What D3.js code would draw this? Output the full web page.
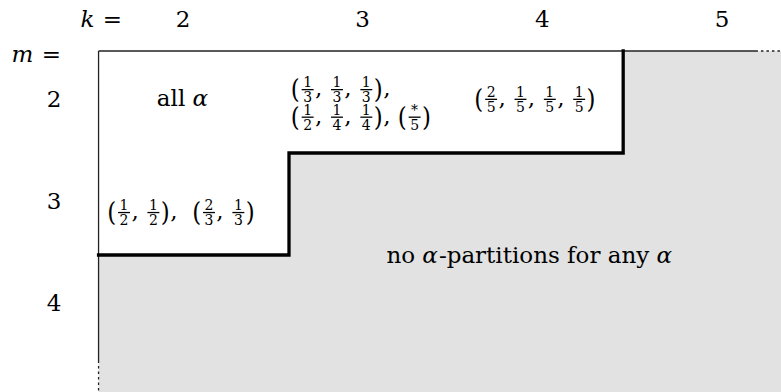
<!DOCTYPE html>
<html><head><meta charset="utf-8">
<script src="https://cdn.jsdelivr.net/npm/d3@7"></script>
<style>
body{margin:0;background:#fff}
svg{display:block}
</style>
</head><body>
<svg id="c" width="781" height="392"></svg>
<script>
// ---- data ----
const kValues = [2, 3, 4, 5];
const mValues = [2, 3, 4];
// staircase boundary (k, m) vertices
const stairK = [1.53, 2.59, 2.59, 4.45, 4.45];
const stairM = [3.5, 3.5, 2.5, 2.5, 1.5];
// solid part of the frame (k and m extents); dotted beyond
const frameK = [1.53, 5.2];
const frameM = [1.5, 4.56];
// cell annotations
const cellTexts = [
  "all $α$",
  "(\\f{1}{3}, \\f{1}{3}, \\f{1}{3}),",
  "(\\f{1}{2}, \\f{1}{4}, \\f{1}{4}), (\\f{*}{5})",
  "(\\f{2}{5}, \\f{1}{5}, \\f{1}{5}, \\f{1}{5})",
  "(\\f{1}{2}, \\f{1}{2}),  (\\f{2}{3}, \\f{1}{3})",
  "no $α$-partitions for any $α$"
];
const cellK = [2, 2.6, 2.6, 3.96, 1.99, 3.93];
const cellM = [2.04, 1.945, 2.215, 2.04, 3.15, 3.58];
const cellAlign = ["middle", "start", "start", "middle", "middle", "middle"];

// ---- chart ----
const W = 781, H = 392;
const FONT = "'DejaVu Serif', serif";
const svg = d3.select("#c");
svg.append("rect").attr("width", W).attr("height", H).attr("fill", "#fff");

const x = d3.scaleLinear().domain([2, 5]).range([183, 722]);
const y = d3.scaleLinear().domain([1.5, 3.5]).range([51, 255]);

// gray region (no partitions)
const pts = stairK.map((k, i) => [x(k), y(stairM[i])]);
pts.push([W, y(frameM[0])], [W, H], [x(frameK[0]), H]);
svg.append("path").attr("d", d3.line()(pts) + "Z").attr("fill", "#e2e2e2");

// frame lines
const xL = x(frameK[0]), yT = y(frameM[0]);
function seg(x1, y1, x2, y2, dash) {
  const l = svg.append("line").attr("x1", x1).attr("y1", y1).attr("x2", x2).attr("y2", y2)
    .attr("stroke", "#222").attr("stroke-width", 1.3);
  if (dash) l.attr("stroke-dasharray", "2.5,3");
}
seg(xL, yT, x(frameK[1]), yT, false);
seg(x(frameK[1]) + 3, yT, W, yT, true);
seg(xL, yT, xL, y(frameM[1]), false);
seg(xL, y(frameM[1]) + 3, xL, H, true);

// staircase
svg.append("path")
  .attr("d", d3.line()(stairK.map((k, i) => [x(k), y(stairM[i])])))
  .attr("fill", "none").attr("stroke", "#000").attr("stroke-width", 3.3)
  .attr("stroke-linejoin", "miter").attr("stroke-linecap", "square");

// math text renderer
const BASE = 23, FR = 14;
const AX = 6.7; // math axis above baseline
function txt(g, cls) {
  const t = g.append("text").attr("font-family", FONT).attr("fill", "#000");
  if (cls === "rm") t.attr("font-size", BASE);
  if (cls === "it") t.attr("font-size", BASE).attr("font-style", "italic");
  if (cls === "fr") t.attr("font-size", FR);
  if (cls === "par") t.attr("font-size", BASE);
  return t;
}
function drawMath(parent, str, px, py, anchor) {
  const g = parent.append("g");
  let cx = 0;
  const re = /\\f\{([^}]*)\}\{([^}]*)\}|\$([^$]*)\$|([()])|([^\\$()]+)/g;
  let mt;
  while ((mt = re.exec(str))) {
    if (mt[1] !== undefined) {
      const pad = 2.9;
      const n = txt(g, "fr").text(mt[1]).attr("y", -AX - 2.5).attr("text-anchor", "middle");
      const d = txt(g, "fr").text(mt[2]).attr("y", -AX + 12.5).attr("text-anchor", "middle");
      const w = Math.max(n.node().getComputedTextLength(), d.node().getComputedTextLength()) + 2 * pad;
      n.attr("x", cx + w / 2);
      d.attr("x", cx + w / 2);
      g.append("rect").attr("x", cx + 1.4).attr("y", -AX - 0.7).attr("width", w - 2.8).attr("height", 1.3).attr("fill", "#000");
      cx += w;
    } else if (mt[3] !== undefined) {
      const t = txt(g, "it").attr("x", cx).text(mt[3].replace(/ /g, "\u00a0"));
      cx += t.node().getComputedTextLength() + 1;
    } else if (mt[4] !== undefined) {
      const pg = g.append("g").attr("transform", `translate(${cx},${-AX}) scale(1,1.15)`);
      const t = txt(pg, "par").attr("y", 7.2).text(mt[4]);
      cx += t.node().getComputedTextLength() + 0.5;
    } else {
      const t = txt(g, "rm").attr("x", cx).text(mt[5].replace(/ /g, "\u00a0"));
      cx += t.node().getComputedTextLength();
    }
  }
  let dx = 0;
  if (anchor === "middle") dx = -cx / 2;
  else if (anchor === "end") dx = -cx;
  g.attr("transform", `translate(${px + dx},${py})`);
  return g;
}

// header labels
drawMath(svg, "$k$ =", 122, 27, "end");
drawMath(svg, "$m$ =", 61, 62, "end");
kValues.forEach(k => drawMath(svg, String(k), x(k), 27, "middle"));
mValues.forEach(m => drawMath(svg, String(m), 54, y(m) + 5, "middle"));

// cell annotations
cellTexts.forEach((s, i) => drawMath(svg, s, x(cellK[i]), y(cellM[i]), cellAlign[i]));
</script>
</body></html>
